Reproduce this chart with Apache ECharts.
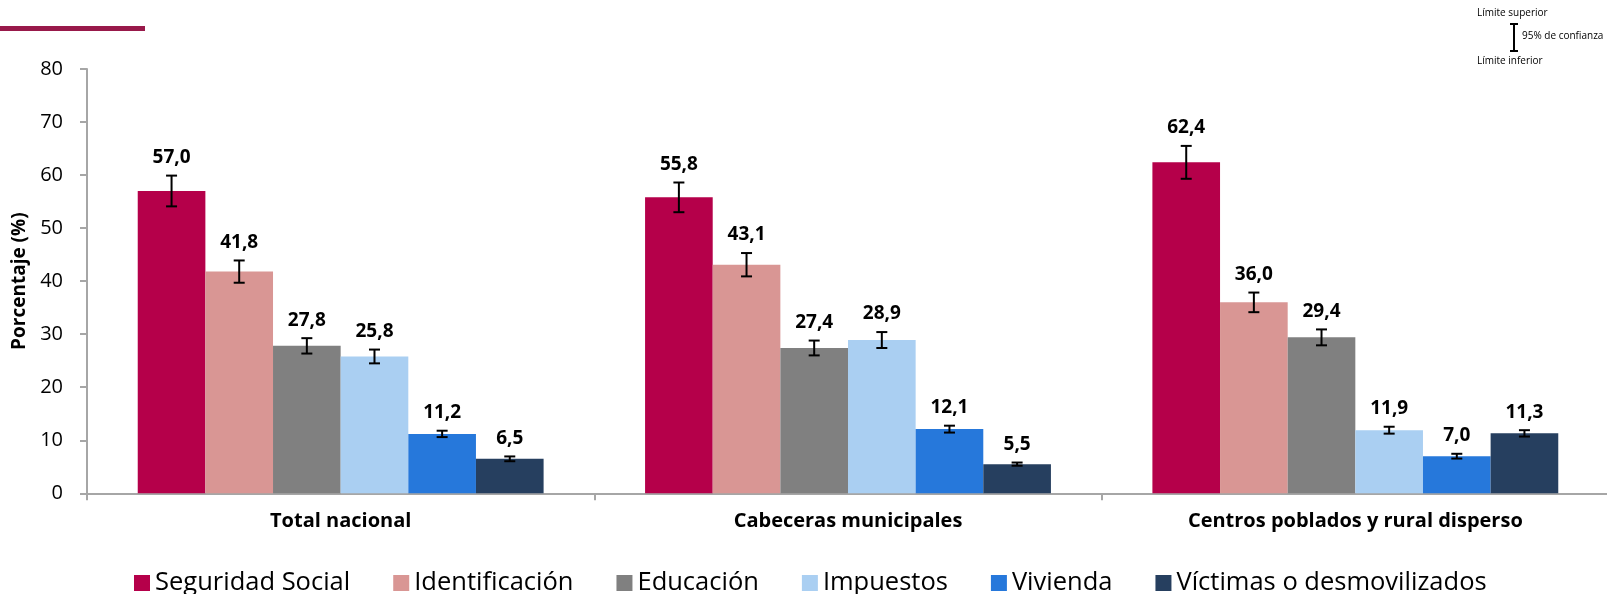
<!DOCTYPE html>
<html>
<head>
<meta charset="utf-8">
<script src="https://cdn.jsdelivr.net/npm/echarts@6/dist/echarts.min.js"></script>
<style>html,body{margin:0;padding:0;background:#fff}#c{width:1607px;height:594px}</style>
</head>
<body>
<div id="c"></div>
<script>
const categories = ['Total nacional', 'Cabeceras municipales', 'Centros poblados y rural disperso'];
const seriesNames = ['Seguridad Social', 'Identificación', 'Educación', 'Impuestos', 'Vivienda', 'Víctimas o desmovilizados'];
const seguridad = [57.0, 55.8, 62.4];
const identificacion = [41.8, 43.1, 36.0];
const educacion = [27.8, 27.4, 29.4];
const impuestos = [25.8, 28.9, 11.9];
const vivienda = [11.2, 12.1, 7.0];
const victimas = [6.5, 5.5, 11.3];
const errSeguridad = [2.9, 2.8, 3.1];
const errIdentificacion = [2.1, 2.2, 1.85];
const errEducacion = [1.45, 1.4, 1.5];
const errImpuestos = [1.3, 1.5, 0.65];
const errVivienda = [0.6, 0.65, 0.45];
const errVictimas = [0.45, 0.3, 0.6];
const yTicks = [0, 10, 20, 30, 40, 50, 60, 70, 80];

const values = [seguridad, identificacion, educacion, impuestos, vivienda, victimas];
const errors = [errSeguridad, errIdentificacion, errEducacion, errImpuestos, errVivienda, errVictimas];
const colors = ['#b5004a', '#d99694', '#808080', '#aacff2', '#2678db', '#263f5f'];
const FONT = '"Open Sans", "Noto Sans", sans-serif';

const fmt = v => v.toFixed(1).replace('.', ',');

const errData = [];
values.forEach((arr, s) => arr.forEach((v, c) => {
  errData.push([c, v + errors[s][c], v, v - errors[s][c], s]);
}));

const chart = echarts.init(document.getElementById('c'), null, {renderer: 'canvas'});
const barSeries = seriesNames.map((n, i) => ({
  name: n, type: 'bar', data: values[i], barGap: 0, barCategoryGap: '20%',
  itemStyle: {color: colors[i]}, z: 2
}));

chart.setOption({
  animation: false,
  textStyle: {fontFamily: FONT},
  grid: {left: 87, top: 69, width: 1522, height: 424.3, containLabel: false, outerBoundsMode: 'none'},
  legend: {
    data: seriesNames, top: 565, left: 129, icon: 'rect',
    itemWidth: 16, itemHeight: 16, itemGap: 43,
    textStyle: {fontSize: 25.5, color: '#000', fontFamily: FONT}
  },
  xAxis: {
    type: 'category', data: categories,
    axisLine: {lineStyle: {color: '#a6a6a6', width: 2}},
    axisTick: {show: true, length: 7, lineStyle: {color: '#a6a6a6', width: 2}},
    axisLabel: {fontSize: 20, fontWeight: 'bold', color: '#000', margin: 18, fontFamily: FONT}
  },
  yAxis: {
    type: 'value', min: yTicks[0], max: yTicks[yTicks.length - 1], interval: 10,
    name: 'Porcentaje (%)', nameLocation: 'middle', nameGap: 56, nameRotate: 90,
    nameTextStyle: {fontSize: 19, fontWeight: 'bold', color: '#000', fontFamily: FONT},
    splitLine: {show: false},
    axisLine: {show: true, lineStyle: {color: '#a6a6a6', width: 2}},
    axisTick: {show: true, length: 7, lineStyle: {color: '#a6a6a6', width: 2}},
    axisLabel: {fontSize: 20, color: '#000', margin: 24, fontFamily: FONT}
  },
  series: barSeries.concat([{
    type: 'custom', data: errData, z: 5,
    encode: {x: 0, y: [1, 3]},
    renderItem: function (params, api) {
      const cat = api.value(0), hi = api.value(1), val = api.value(2), lo = api.value(3), s = api.value(4);
      const band = api.size([1, 0])[0];
      const bw = band * 0.8 / 6;
      const x = api.coord([cat, val])[0] + (s - 2.5) * bw;
      const yHi = api.coord([cat, hi])[1];
      const yLo = api.coord([cat, lo])[1];
      const cap = 5.5;
      const ls = {stroke: '#000', lineWidth: 2};
      return {type: 'group', children: [
        {type: 'line', shape: {x1: x, y1: yHi, x2: x, y2: yLo}, style: ls},
        {type: 'line', shape: {x1: x - cap, y1: yHi, x2: x + cap, y2: yHi}, style: ls},
        {type: 'line', shape: {x1: x - cap, y1: yLo, x2: x + cap, y2: yLo}, style: ls},
        {type: 'text', x: x, y: yHi - 18, style: {text: fmt(val), font: 'bold 19px ' + FONT, fill: '#000', align: 'center', verticalAlign: 'middle'}}
      ]};
    }
  }]),
  graphic: [
    {type: 'rect', left: 0, top: 26, shape: {width: 145, height: 5}, style: {fill: '#98194a'}},
    {type: 'text', left: 1477, top: 8, style: {text: 'Límite superior', font: '10px ' + FONT, fill: '#000'}},
    {type: 'line', shape: {x1: 1514, y1: 24, x2: 1514, y2: 51}, style: {stroke: '#000', lineWidth: 2}},
    {type: 'line', shape: {x1: 1510, y1: 24, x2: 1518, y2: 24}, style: {stroke: '#000', lineWidth: 2}},
    {type: 'line', shape: {x1: 1510, y1: 51, x2: 1518, y2: 51}, style: {stroke: '#000', lineWidth: 2}},
    {type: 'text', left: 1522, top: 31, style: {text: '95% de confianza', font: '10px ' + FONT, fill: '#000'}},
    {type: 'text', left: 1477, top: 56, style: {text: 'Límite inferior', font: '10px ' + FONT, fill: '#000'}}
  ]
});
</script>
</body>
</html>
